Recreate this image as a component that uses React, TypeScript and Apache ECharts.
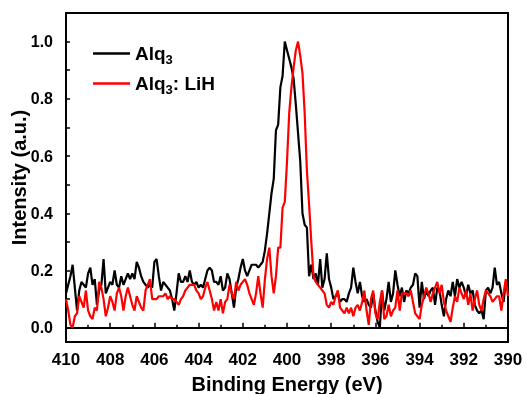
import React, { useEffect, useRef } from 'react';
import * as echarts from 'echarts';

// Binding energy sampling of the spectra (eV): first point and step
const START_EV = 410;
const STEP_EV = 0.1;

const SERIES_NAMES = ['Alq3', 'Alq3: LiH'];
const SERIES_COLORS = ['#000000', '#ff0000'];

const X_LABEL = 'Binding Energy (eV)';
const Y_LABEL = 'Intensity (a.u.)';

// Alq3 (black), 410 -> 390 eV
const alq3 = [
  0.12, 0.15, 0.18, 0.22, 0.14, 0.06, 0.13, 0.16, 0.15, 0.14,
  0.19, 0.21, 0.15, 0.17, 0.08, 0.13, 0.15, 0.24, 0.12, 0.14,
  0.16, 0.15, 0.20, 0.15, 0.14, 0.18, 0.15, 0.17, 0.19, 0.17,
  0.19, 0.17, 0.23, 0.21, 0.18, 0.16, 0.15, 0.14, 0.15, 0.14,
  0.23, 0.24, 0.18, 0.13, 0.16, 0.15, 0.14, 0.13, 0.10, 0.06,
  0.12, 0.19, 0.16, 0.16, 0.18, 0.16, 0.20, 0.16, 0.15, 0.16,
  0.14, 0.15, 0.14, 0.17, 0.20, 0.21, 0.20, 0.16, 0.16, 0.15,
  0.18, 0.13, 0.14, 0.19, 0.17, 0.12, 0.07, 0.14, 0.17, 0.21,
  0.24, 0.20, 0.18, 0.20, 0.22, 0.22, 0.22, 0.21, 0.22, 0.23,
  0.27, 0.33, 0.40, 0.47, 0.52, 0.69, 0.71, 0.84, 0.88, 1.00,
  0.97, 0.94, 0.91, 0.87, 0.78, 0.68, 0.58, 0.40, 0.36, 0.35,
  0.18, 0.22, 0.17, 0.19, 0.15, 0.24, 0.14, 0.17, 0.26, 0.17,
  0.14, 0.10, 0.11, 0.12, 0.09, 0.10, 0.10, 0.09, 0.12, 0.14,
  0.21, 0.16, 0.12, 0.16, 0.11, 0.09, 0.10, 0.08, 0.07, 0.12,
  0.06, 0.02, 0.00, 0.13, 0.06, 0.10, 0.16, 0.09, 0.12, 0.20,
  0.15, 0.11, 0.14, 0.09, 0.13, 0.12, 0.14, 0.15, 0.19, 0.18,
  0.07, 0.16, 0.10, 0.13, 0.11, 0.13, 0.14, 0.08, 0.14, 0.13,
  0.08, 0.04, 0.10, 0.13, 0.11, 0.16, 0.11, 0.17, 0.14, 0.16,
  0.14, 0.11, 0.15, 0.12, 0.13, 0.08, 0.06, 0.05, 0.06, 0.03,
  0.13, 0.14, 0.12, 0.14, 0.21, 0.15, 0.16, 0.12, 0.09, 0.16,
  0.16,
];

// Alq3: LiH (red), 410 -> 390 eV
const alq3LiH = [
  0.10, 0.06, 0.01, 0.00, 0.04, 0.05, 0.11, 0.09, 0.07, 0.13,
  0.06, 0.04, 0.03, 0.07, 0.06, 0.16, 0.14, 0.10, 0.04, 0.07,
  0.11, 0.09, 0.06, 0.12, 0.14, 0.11, 0.06, 0.11, 0.14, 0.11,
  0.08, 0.06, 0.11, 0.09, 0.07, 0.06, 0.13, 0.15, 0.17, 0.10,
  0.10, 0.10, 0.11, 0.11, 0.11, 0.12, 0.10, 0.11, 0.10, 0.10,
  0.09, 0.08, 0.10, 0.11, 0.13, 0.14, 0.15, 0.15, 0.15, 0.13,
  0.12, 0.10, 0.11, 0.14, 0.16, 0.13, 0.10, 0.06, 0.09, 0.06,
  0.10, 0.05, 0.09, 0.10, 0.15, 0.12, 0.10, 0.16, 0.13, 0.15,
  0.16, 0.17, 0.15, 0.12, 0.10, 0.08, 0.12, 0.18, 0.12, 0.07,
  0.17, 0.24, 0.28, 0.18, 0.12, 0.18, 0.28, 0.28, 0.42, 0.44,
  0.58, 0.75, 0.84, 0.91, 0.97, 1.00, 0.95, 0.89, 0.75, 0.55,
  0.43, 0.30, 0.18, 0.16, 0.15, 0.14, 0.13, 0.12, 0.08, 0.07,
  0.09, 0.08, 0.11, 0.13, 0.07, 0.06, 0.05, 0.07, 0.05, 0.07,
  0.04, 0.07, 0.08, 0.06, 0.09, 0.13, 0.06, 0.01, 0.10, 0.13,
  0.05, 0.03, 0.09, 0.13, 0.03, 0.04, 0.08, 0.04, 0.06, 0.07,
  0.13, 0.06, 0.12, 0.12, 0.12, 0.11, 0.13, 0.09, 0.05, 0.04,
  0.03, 0.08, 0.11, 0.14, 0.12, 0.09, 0.12, 0.14, 0.16, 0.12,
  0.15, 0.09, 0.06, 0.04, 0.02, 0.07, 0.11, 0.09, 0.14, 0.12,
  0.10, 0.13, 0.08, 0.12, 0.06, 0.10, 0.13, 0.08, 0.06, 0.10,
  0.13, 0.12, 0.11, 0.09, 0.10, 0.11, 0.11, 0.06, 0.12, 0.17,
  0.11,
];

const FONT = "'Liberation Sans', Arial, Helvetica, sans-serif";

export default function App() {
  const ref = useRef<HTMLDivElement>(null);

  useEffect(() => {
    if (!ref.current) return;
    const chart = echarts.init(ref.current, null, { renderer: 'svg' });
    const toPairs = (vals: number[]) =>
      vals.map((v, i) => [Math.round((START_EV - i * STEP_EV) * 10) / 10, v]);
    const seriesData = [alq3, alq3LiH];

    chart.setOption({
      animation: false,
      textStyle: { fontFamily: FONT },
      grid: {
        left: 66,
        right: 19,
        top: 13,
        bottom: 52,
        containLabel: false,
        outerBoundsMode: 'none',
        show: true,
        borderColor: '#000',
        borderWidth: 2,
        backgroundColor: 'transparent',
      },
      legend: {
        orient: 'vertical',
        left: 93,
        top: 44,
        padding: 0,
        itemWidth: 37,
        itemHeight: 2.5,
        itemGap: 8,
        itemTextGap: 4,
        icon: 'rect',
        data: SERIES_NAMES.map((n, i) => ({ name: n, itemStyle: { color: SERIES_COLORS[i] } })),
        formatter: (name: string) => name.replace('3', '{sub|3}'),
        textStyle: {
          fontFamily: FONT,
          fontSize: 19,
          fontWeight: 'bold',
          color: '#000',
          rich: {
            sub: {
              fontFamily: FONT,
              fontSize: 13,
              fontWeight: 'bold',
              color: '#000',
              padding: [12, 0, 0, 0],
            },
          },
        },
      },
      xAxis: {
        type: 'value',
        min: 390,
        max: 410,
        interval: 2,
        inverse: true,
        name: X_LABEL,
        nameLocation: 'middle',
        nameGap: 32,
        nameMoveOverlap: false,
        nameTextStyle: { fontFamily: FONT, fontSize: 20, fontWeight: 'bold', color: '#000' },
        axisLine: { show: true, lineStyle: { color: '#000', width: 2 } },
        axisTick: { show: true, inside: true, length: 5, lineStyle: { color: '#000', width: 1.5 } },
        minorTick: { show: true, splitNumber: 2, length: 3, lineStyle: { color: '#000', width: 1.5 } },
        axisLabel: {
          margin: 9,
          fontFamily: FONT,
          fontSize: 17,
          fontWeight: 'bold',
          color: '#000',
        },
        splitLine: { show: false },
      },
      yAxis: {
        type: 'value',
        min: -0.05,
        max: 1.1,
        minInterval: 0.1,
        maxInterval: 0.1,
        name: Y_LABEL,
        nameLocation: 'middle',
        nameGap: 37,
        nameMoveOverlap: false,
        nameTextStyle: { fontFamily: FONT, fontSize: 20, fontWeight: 'bold', color: '#000' },
        axisLine: { show: true, lineStyle: { color: '#000', width: 2 } },
        axisTick: { show: true, inside: true, length: 4, lineStyle: { color: '#000', width: 1.5 } },
        axisLabel: {
          margin: 13,
          fontFamily: FONT,
          fontSize: 16,
          fontWeight: 'bold',
          color: '#000',
          showMinLabel: false,
          showMaxLabel: false,
          formatter: (v: number) => {
            const k = Math.round(v * 10);
            if (Math.abs(v * 10 - k) > 1e-6) return '';
            if (k < 0 || k % 2 !== 0) return '';
            return (Math.abs(k) / 10).toFixed(1);
          },
        },
        splitLine: { show: false },
      },
      series: SERIES_NAMES.map((name, i) => ({
        name,
        type: 'line',
        data: toPairs(seriesData[i]),
        symbol: 'none',
        lineStyle: { color: SERIES_COLORS[i], width: 2.2 },
        itemStyle: { color: SERIES_COLORS[i] },
        z: 2 + i,
      })),
    });

    return () => chart.dispose();
  }, []);

  return (
    <div
      ref={ref}
      style={{ position: 'fixed', left: 0, top: 0, width: 527, height: 394 }}
    />
  );
}
